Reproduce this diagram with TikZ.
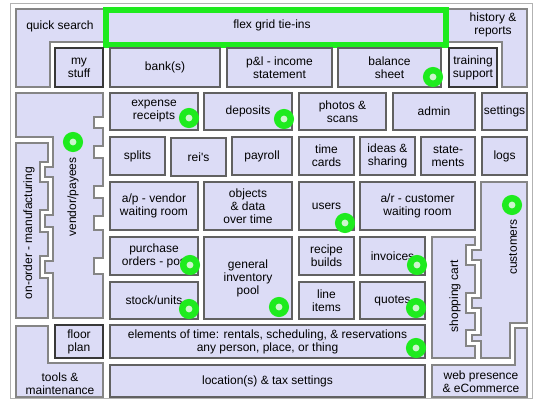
\documentclass[tikz,border=0pt]{standalone}
\usepackage{fontspec}
\setmainfont{Liberation Sans}
\definecolor{lavender}{RGB}{220,220,246}
\definecolor{tiegreen}{RGB}{30,235,30}
\definecolor{tiecore}{RGB}{205,245,205}

\begin{document}
\begin{tikzpicture}[x=1pt,y=-1pt,
	box/.style 2 args={draw=black!62,line width=1.2pt,fill=lavender,
		minimum width=#1,minimum height=#2,inner sep=0pt,align=center},
	darkbox/.style 2 args={box={#1}{#2},draw=black!78},
	zone/.style={draw=black!48,line width=1.2pt,fill=lavender},
	lbl/.style={inner sep=0pt,align=center},
	tie/.style={circle,draw=tiegreen,line width=6.5pt,fill=tiecore,
		minimum size=13.5pt,inner sep=0pt},
	every node/.style={font=\fontsize{12}{13}\selectfont}]

\def\FRAMECOLOR{black!30}
	\useasboundingbox (0,0) rectangle (534,401);
	\draw[\FRAMECOLOR] (10,3) rectangle (532,398);

	% outer zones
	\draw[zone] (16,9) -- (104,9) -- (104,42) -- (50,42) -- (50,87) -- (16,87) -- cycle;
	\node[lbl] (quick) at (60,26) {quick search};
	\draw[zone] (447,9) -- (527,9) -- (527,87) -- (502,87) -- (502,42) -- (447,42) -- cycle;
	\node[lbl] (history) at (493,25) {history \&\\reports};
	\draw[zone] (16,93) -- (103,93) -- (103,117) -- (94,117) -- (94,128) -- (103,128)
		-- (103,146) -- (94,146) -- (94,158) -- (103,158) -- (103,186) -- (94,186)
		-- (94,198) -- (103,198) -- (103,216) -- (94,216) -- (94,230) -- (103,230)
		-- (103,258) -- (94,258) -- (94,274) -- (103,274) -- (103,318) -- (53,318)
		-- (53,273) -- (45,273) -- (45,261) -- (53,261) -- (53,227) -- (45,227)
		-- (45,215) -- (53,215) -- (53,177) -- (45,177) -- (45,167) -- (53,167)
		-- (53,137) -- (16,137) -- cycle;
	\node[lbl,rotate=90] (vendor) at (73,197) {vendor/payees};
	\draw[zone] (16,143) -- (48,143) -- (48,162) -- (40,162) -- (40,182) -- (48,182)
		-- (48,210) -- (40,210) -- (40,232) -- (48,232) -- (48,256) -- (40,256)
		-- (40,278) -- (48,278) -- (48,318) -- (16,318) -- cycle;
	\node[lbl,rotate=90] (onorder) at (29,233) {on-order - manufacturing};
	\draw[zone] (432,237) -- (475,237) -- (475,245) -- (466,245) -- (466,265) -- (475,265)
		-- (475,293) -- (466,293) -- (466,313) -- (475,313) -- (475,330) -- (466,330)
		-- (466,346) -- (475,346) -- (475,358) -- (432,358) -- cycle;
	\node[lbl,rotate=90] (cart) at (455,296) {shopping cart};
	\draw[zone] (481,182) -- (527,182) -- (527,323) -- (510,323) -- (510,358) -- (481,358)
		-- (481,341) -- (472,341) -- (472,335) -- (481,335) -- (481,308) -- (472,308)
		-- (472,298) -- (481,298) -- (481,260) -- (472,260) -- (472,250) -- (481,250) -- cycle;
	\node[lbl,rotate=90] (customers) at (513,247) {customers};
	\draw[zone] (432,365) -- (515,365) -- (515,328) -- (527,328) -- (527,397) -- (432,397) -- cycle;
	\node[lbl] (web) at (481,382) {web presence\\\& eCommerce};
	\draw[zone] (16,326) -- (48,326) -- (48,363) -- (103,363) -- (103,397) -- (16,397) -- cycle;
	\node[lbl] (tools) at (60,384) {tools \&\\maintenance};

	% top bar
	\draw[draw=tiegreen,line width=6.5pt,fill=lavender] (106,10) rectangle (446,45);
	\node[lbl] (flex) at (272,25) {flex grid tie-ins};

	% row 1
	\node[darkbox={48}{39}] (mystuff) at (79,67.5) {my\\stuff};
	\node[box={110}{39}] (banks) at (165,67.5) {bank(s)};
	\node[box={105}{39}] (pandl) at (279.5,67.5) {p\&l - income\\statement};
	\node[box={103}{39}] (balance) at (389.5,67.5) {balance\\sheet};
	\node[darkbox={48}{39}] (training) at (473,67.5) {training\\support};

	% row 2
	\node[box={88}{37}] (expense) at (154,111.5) {expense\\receipts};
	\node[box={88}{37}] (deposits) at (248,111.5) {deposits};
	\node[box={87}{37}] (photos) at (342.5,111.5) {photos \&\\scans};
	\node[box={82}{37}] (admin) at (434,111.5) {admin};
	\node[box={45}{37}] (settings) at (504.5,111.5) {settings};

	% row 3
	\node[box={55}{38}] (splits) at (137.5,156) {splits};
	\node[box={55}{38}] (reis) at (198.5,157) {rei\textquotesingle s};
	\node[box={60}{38}] (payroll) at (262,156) {payroll};
	\node[box={55}{38}] (timecards) at (326.5,156) {time\\cards};
	\node[box={55}{38}] (ideas) at (387.5,156) {ideas \&\\sharing};
	\node[box={54}{38}] (statements) at (448,156) {state-\\ments};
	\node[box={45}{38}] (logs) at (504.5,156) {logs};

	% row 4
	\node[box={88}{48}] (apvendor) at (154,206) {a/p - vendor\\waiting room};
	\node[box={88}{48}] (objects) at (248,206) {objects\\\& data\\over time};
	\node[box={55}{48}] (users) at (326.5,206) {users};
	\node[box={115}{48}] (arcustomer) at (417.5,206) {a/r - customer\\waiting room};

	% rows 5 and 6
	\node[box={88}{38}] (purchase) at (154,256) {purchase\\orders - pos};
	\node[box={88}{37}] (stock) at (154,300.5) {stock/units};
	\node[box={88}{82}] (inventory) at (248,278) {general\\inventory\\pool};
	\node[box={55}{38}] (recipe) at (326.5,256) {recipe\\builds};
	\node[box={65}{38}] (invoices) at (392.5,256) {invoices};
	\node[box={55}{37}] (lineitems) at (326.5,300.5) {line\\items};
	\node[box={65}{37}] (quotes) at (392.5,300.5) {quotes};

	% bottom rows
	\node[darkbox={48}{33}] (floorplan) at (79,341.5) {floor\\plan};
	\node[box={315}{33}] (elements) at (267.5,341.5) {elements of time: rentals, scheduling, \& reservations\\any person, place, or thing};
	\node[box={315}{32}] (location) at (267.5,381) {location(s) \& tax settings};

	% tie-in points
	\node[tie] (tBalance) at (433,77) {};
	\node[tie] (tExpense) at (189,118) {};
	\node[tie] (tDeposits) at (284,119) {};
	\node[tie] (tVendor) at (73,142) {};
	\node[tie] (tUsers) at (345,223) {};
	\node[tie] (tCustomers) at (512,205) {};
	\node[tie] (tPurchase) at (190,265) {};
	\node[tie] (tStock) at (189,309) {};
	\node[tie] (tInventory) at (279,307) {};
	\node[tie] (tInvoices) at (417,265) {};
	\node[tie] (tQuotes) at (416,308) {};
	\node[tie] (tElements) at (416,348) {};

\end{tikzpicture}
\end{document}
